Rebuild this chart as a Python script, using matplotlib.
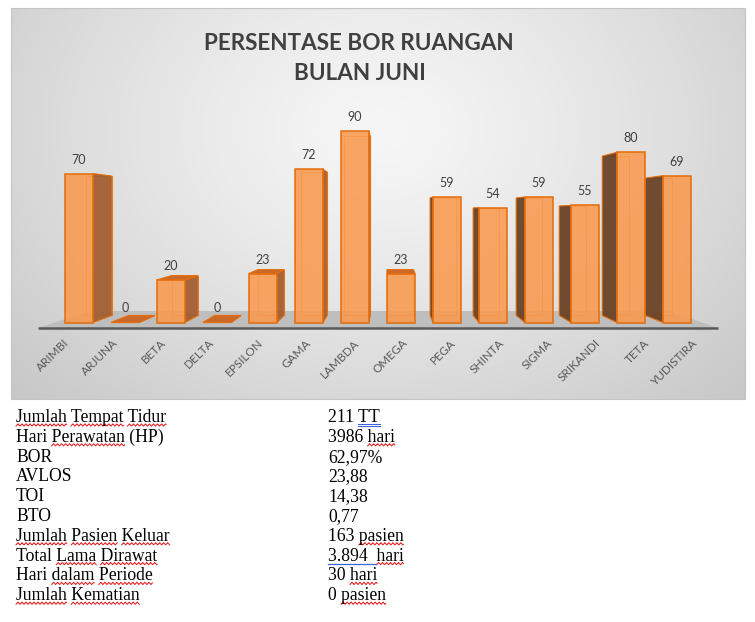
import re
import numpy as np
import matplotlib
matplotlib.use('Agg')
import matplotlib.pyplot as plt
from matplotlib.patches import Polygon, Rectangle

# ---------------- data ----------------
categories = ['ARIMBI', 'ARJUNA', 'BETA', 'DELTA', 'EPSILON', 'GAMA', 'LAMBDA',
              'OMEGA', 'PEGA', 'SHINTA', 'SIGMA', 'SRIKANDI', 'TETA', 'YUDISTIRA']
bor_values = [70, 0, 20, 0, 23, 72, 90, 23, 59, 54, 59, 55, 80, 69]
title_lines = ['PERSENTASE BOR RUANGAN', 'BULAN JUNI']

table_labels = ['Jumlah Tempat Tidur', 'Hari Perawatan (HP)', 'BOR', 'AVLOS', 'TOI',
                'BTO', 'Jumlah Pasien Keluar', 'Total Lama Dirawat',
                'Hari dalam Periode', 'Jumlah Kematian']
table_values = ['211 TT', '3986 hari', '62,97%', '23,88', '14,38', '0,77',
                '163 pasien', '3.894  hari', '30 hari', '0 pasien']
# words flagged by the word processor's spell checker (red wavy underline)
label_flags = [[0, 1, 2], [1], [], [], [], [], [0, 1, 2], [1, 2], [1, 2], [0, 1]]
value_flags = [[], [1], [], [], [], [], [1], [1], [1], [1]]

# ---------------- layout ----------------
W, H = 755, 622
BOX_L, BOX_T, BOX_R, BOX_B = 11, 8, 745, 399
PX0, DX = 79.0, 46.0          # pixel x of first category, spacing
PY0, DY = 322.5, 2.128        # pixel y of value 0, pixels per unit
VX_PX, VY_PX = 388.0, 213.0   # vanishing point
K_BACK = 0.936
K_FLOOR_F, K_FLOOR_B = 1.05, 0.895
BAR_W = 0.61

fig = plt.figure(figsize=(W / 100, H / 100), dpi=100)
fig.patch.set_facecolor('white')

ax = fig.add_axes([BOX_L / W, 1 - BOX_B / H, (BOX_R - BOX_L) / W, (BOX_B - BOX_T) / H])
xlim = ((BOX_L - PX0) / DX, (BOX_R - PX0) / DX)
ylim = ((PY0 - BOX_B) / DY, (PY0 - BOX_T) / DY)
ax.set_xlim(*xlim)
ax.set_ylim(*ylim)
ax.axis('off')

# radial gradient background
gx = np.linspace(BOX_L, BOX_R, 400)
gy = np.linspace(BOX_T, BOX_B, 240)
GX, GY = np.meshgrid(gx, gy)
R = np.sqrt(((GX - 380) / 430) ** 2 + ((GY - 130) / 330) ** 2)
G = np.clip(0.965 - 0.15 * R ** 1.3, 0.76, 1)
img = np.dstack([G, G, G])
ax.imshow(img, extent=(xlim[0], xlim[1], ylim[0], ylim[1]), origin='upper',
          aspect='auto', zorder=0, interpolation='bilinear')

XV = (VX_PX - PX0) / DX
YV = (PY0 - VY_PX) / DY


def proj(x, y, k):
    return (XV + (x - XV) * k, YV + (y - YV) * k)


n = len(categories)
# floor
fl_l, fl_r = -0.53, n - 1 + 0.55
floor = [proj(fl_l, 0, K_FLOOR_F), proj(fl_r, 0, K_FLOOR_F),
         proj(fl_r, 0, K_FLOOR_B), proj(fl_l, 0, K_FLOOR_B)]
ax.add_patch(Polygon(floor, closed=True, facecolor='#BEBEBE', edgecolor='none', zorder=1))
fx0, fy0 = proj(fl_l, 0, K_FLOOR_F)
fx1, fy1 = proj(fl_r, 0, K_FLOOR_F)
ax.plot([fx0, fx1], [fy0, fy1], color='#595959', lw=1.8, solid_capstyle='butt', zorder=2)

FRONT = '#F99A50'
EDGE = '#E46C0A'
SIDE_R = '#A35F32'
SIDE_L = '#6B4327'
TOP = '#C96A2C'

# back parts
for i, v in enumerate(bor_values):
    x0, x1 = i - BAR_W / 2, i + BAR_W / 2
    back = [proj(x0, 0, K_BACK), proj(x1, 0, K_BACK), proj(x1, v, K_BACK), proj(x0, v, K_BACK)]
    if v > 0:
        ax.add_patch(Polygon(back, closed=True, facecolor='none', edgecolor=EDGE,
                             lw=0.8, alpha=0.75, zorder=3))
    if x1 < XV:
        side = [(x1, 0), (x1, v), proj(x1, v, K_BACK), proj(x1, 0, K_BACK)]
        ax.add_patch(Polygon(side, closed=True, facecolor=SIDE_R, edgecolor=EDGE,
                             lw=0.8, alpha=0.95, zorder=4))
    if x0 > XV:
        side = [(x0, 0), (x0, v), proj(x0, v, K_BACK), proj(x0, 0, K_BACK)]
        ax.add_patch(Polygon(side, closed=True, facecolor=SIDE_L, edgecolor=EDGE,
                             lw=0.8, alpha=0.95, zorder=4))
    if v < YV:
        top = [(x0, v), (x1, v), proj(x1, v, K_BACK), proj(x0, v, K_BACK)]
        ax.add_patch(Polygon(top, closed=True, facecolor=TOP, edgecolor=EDGE,
                             lw=0.9, zorder=5))

# front faces
for i, v in enumerate(bor_values):
    x0 = i - BAR_W / 2
    if v > 0:
        ax.add_patch(Rectangle((x0, 0), BAR_W, v, facecolor=FRONT, edgecolor='none',
                               alpha=0.88, zorder=6))
        ax.add_patch(Rectangle((x0, 0), BAR_W, v, facecolor='none', edgecolor=EDGE,
                               lw=1.1, zorder=7))
    ax.annotate(str(v), (i, v), xytext=(0, 14), textcoords='offset pixels',
                ha='center', va='center', fontsize=9, color='#404040',
                family='Lato', zorder=8)

# category labels along floor front edge
lab_y = (PY0 - 341) / DY
for i, c in enumerate(categories):
    lx, _ = proj(i, 0, K_FLOOR_F)
    ax.annotate(c, (lx, lab_y), xytext=(4, 0), textcoords='offset pixels',
                ha='right', va='center', rotation=45, rotation_mode='anchor',
                fontsize=8.5, color='#595959', family='Lato', zorder=8)

# ---------------- overlay in pixel coordinates ----------------
ov = fig.add_axes([0, 0, 1, 1], facecolor='none')
ov.set_xlim(0, W)
ov.set_ylim(H, 0)
ov.axis('off')

ov.add_patch(Rectangle((BOX_L, BOX_T), BOX_R - BOX_L, BOX_B - BOX_T, facecolor='none',
                       edgecolor='#C4C4C4', lw=0.8))

ov.text(359, 43, title_lines[0], ha='center', va='center', fontsize=16.2,
        fontweight='bold', color='#404040', family='Lato')
ov.text(360, 73, title_lines[1], ha='center', va='center', fontsize=16.2,
        fontweight='bold', color='#404040', family='Lato')

TX_L, TX_R = 16, 328
BASE0, ROW = 422, 19.8
tkw = dict(fontsize=12.7, color='black', family='Liberation Serif', va='baseline', ha='left')

fig.canvas.draw()
renderer = fig.canvas.get_renderer()


def width(s):
    t = ov.text(0, 100, s, **tkw)
    w = t.get_window_extent(renderer).width
    t.remove()
    return w


def word_span(s, j):
    m = list(re.finditer(r'\S+', s))[j]
    xe = width(s[:m.end()])
    return xe - width(m.group()), xe


def wavy(xa, xb, y):
    xs = np.arange(xa, xb + 0.01, 0.5)
    ph = ((xs - xa) / 2.0) % 2.0
    ys = y + (np.abs(ph - 1.0) * 2 - 1) * 1.1
    ov.plot(xs, ys, color='#E02424', lw=0.75)


for r in range(len(table_labels)):
    yb = BASE0 + ROW * r
    ov.text(TX_L, yb, table_labels[r], **tkw)
    ov.text(TX_R, yb, table_values[r], **tkw)
    for j in label_flags[r]:
        a, b = word_span(table_labels[r], j)
        wavy(TX_L + a, TX_L + b, yb + 3)
    for j in value_flags[r]:
        a, b = word_span(table_values[r], j)
        wavy(TX_R + a, TX_R + b, yb + 3)

# grammar-check blue underlines
yb = BASE0
a, b = word_span(table_values[0], 1)
ov.plot([TX_R + a, TX_R + b], [yb + 1.6, yb + 1.6], color='#3A62D6', lw=0.75)
ov.plot([TX_R + a, TX_R + b], [yb + 3.6, yb + 3.6], color='#3A62D6', lw=0.75)
yb = BASE0 + ROW * 7
a, b = word_span(table_values[7], 1)
ov.plot([TX_R, TX_R + a - 1], [yb + 3, yb + 3], color='#3A62D6', lw=0.9)

fig.savefig('out.png', dpi=100, facecolor='white')
